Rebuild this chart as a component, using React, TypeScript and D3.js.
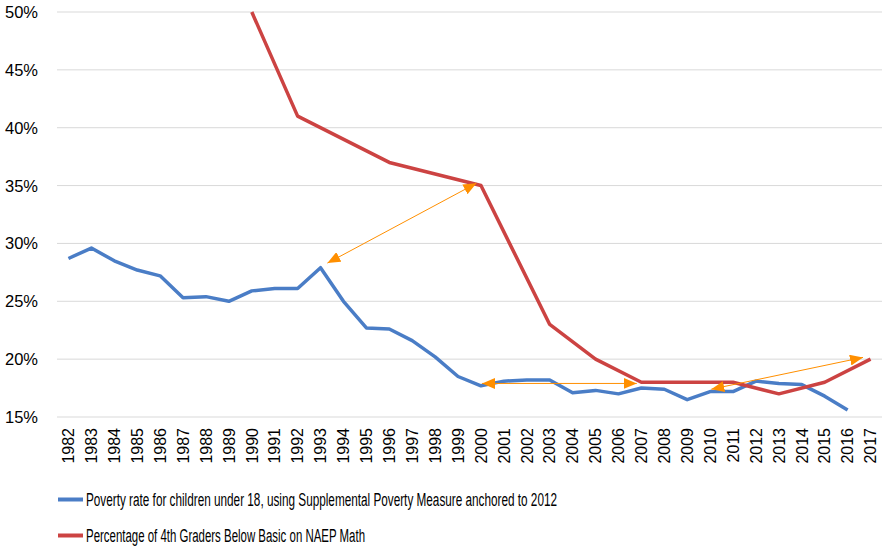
import React from "react";
import * as d3 from "d3";

const years: number[] = d3.range(1982, 2018);
const povertyRate: (number | null)[] = [
  28.7, 29.6, 28.5, 27.7, 27.2, 25.3, 25.4, 25.0, 25.9, 26.1, 26.1, 27.9,
  25.0, 22.7, 22.6, 21.6, 20.2, 18.5, 17.7, 18.1, 18.2, 18.2, 17.1, 17.3,
  17.0, 17.5, 17.4, 16.5, 17.2, 17.2, 18.1, 17.9, 17.8, 16.8, 15.6, null,
];
const naepYears: number[] = [1990, 1992, 1996, 2000, 2003, 2005, 2007, 2009, 2011, 2013, 2015, 2017];
const naepBelowBasic: number[] = [50, 41, 37, 35, 23, 20, 18, 18, 18, 17, 18, 20];
const yTicks: number[] = [15, 20, 25, 30, 35, 40, 45, 50];
const legendLabels: string[] = [
  "Poverty rate for children under 18, using Supplemental Poverty Measure anchored to 2012",
  "Percentage of 4th Graders Below Basic on NAEP Math",
];
// annotation arrows: [yearFrom, valueFrom, yearTo, valueTo]
const arrowFrom: [number, number][] = [[1993.3, 28.3], [2000.05, 17.9], [2010.05, 17.4]];
const arrowTo: [number, number][] = [[1999.8, 35.2], [2006.8, 17.9], [2016.67, 20.15]];

const W = 892;
const H = 551;
const M = { left: 57, right: 882, top: 12, bottom: 417 };
const BLUE = "#4A7DC6";
const RED = "#CC4342";
const ORANGE = "#FF8F00";
const FONT = "'Liberation Sans', Arial, sans-serif";

export default function App() {
  const xBand = d3
    .scaleBand<number>()
    .domain(years)
    .range([M.left, M.right])
    .paddingInner(0)
    .paddingOuter(0);
  const half = xBand.bandwidth() / 2;
  const xYear = d3
    .scaleLinear()
    .domain([years[0], years[years.length - 1]])
    .range([(xBand(years[0]) as number) + half, (xBand(years[years.length - 1]) as number) + half]);
  const y = d3.scaleLinear().domain([15, 50]).range([M.bottom, M.top]);

  const povPts = years
    .map((yr, i) => ({ yr, v: povertyRate[i] }))
    .filter((d) => d.v !== null) as { yr: number; v: number }[];
  const naepPts = naepYears.map((yr, i) => ({ yr, v: naepBelowBasic[i] }));

  const line = d3
    .line<{ yr: number; v: number }>()
    .x((d) => xYear(d.yr))
    .y((d) => y(d.v));

  return (
    <svg
      width={W}
      height={H}
      style={{ position: "absolute", left: 0, top: 0, background: "#fff" }}
      fontFamily={FONT}
    >
      <defs>
        <marker
          id="ah"
          viewBox="0 0 13 11"
          refX="13"
          refY="5.5"
          markerWidth="13"
          markerHeight="11"
          markerUnits="userSpaceOnUse"
          orient="auto-start-reverse"
        >
          <path d="M0,0 L13,5.5 L0,11 Z" fill={ORANGE} />
        </marker>
      </defs>

      {yTicks.map((t) => (
        <g key={t}>
          <line x1={M.left} x2={M.right} y1={y(t)} y2={y(t)} stroke="#D9D9D9" strokeWidth={1} />
          <text x={38} y={y(t)} dy="0.36em" textAnchor="end" fontSize={16.5} fill="#000">
            {t}%
          </text>
        </g>
      ))}

      {years.map((yr) => (
        <text
          key={yr}
          transform={`translate(${xYear(yr)},${428}) rotate(-90)`}
          dy="0.36em"
          textAnchor="end"
          fontSize={16}
          fill="#000"
        >
          {yr}
        </text>
      ))}

      <path d={line(povPts) || ""} fill="none" stroke={BLUE} strokeWidth={3.5} strokeLinejoin="round" />
      <path d={line(naepPts) || ""} fill="none" stroke={RED} strokeWidth={3.5} strokeLinejoin="round" />

      {arrowFrom.map((f, i) => (
        <line
          key={i}
          x1={xYear(f[0])}
          y1={y(f[1])}
          x2={xYear(arrowTo[i][0])}
          y2={y(arrowTo[i][1])}
          stroke={ORANGE}
          strokeWidth={1}
          markerStart="url(#ah)"
          markerEnd="url(#ah)"
        />
      ))}

      {legendLabels.map((lab, i) => {
        const ly = 499.5 + i * 36;
        return (
          <g key={lab}>
            <line x1={58} x2={83} y1={ly} y2={ly} stroke={i === 0 ? BLUE : RED} strokeWidth={4} />
            <text
              x={86}
              y={ly}
              dy="0.36em"
              fontSize={18}
              fill="#000"
              textLength={i === 0 ? 471 : 279}
              lengthAdjust="spacingAndGlyphs"
            >
              {lab}
            </text>
          </g>
        );
      })}
    </svg>
  );
}
